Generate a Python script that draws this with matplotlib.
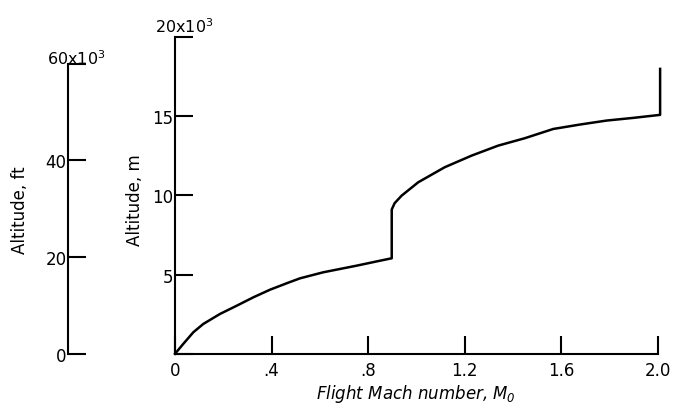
import matplotlib
matplotlib.use("Agg")
from matplotlib import pyplot as plt

# flight path: Mach number vs altitude (m)
mach = [0.0, 0.034, 0.076, 0.117, 0.186, 0.256, 0.325, 0.394, 0.463, 0.518,
        0.614, 0.753, 0.849, 0.898, 0.898, 0.91, 0.939, 1.008, 1.118, 1.229,
        1.339, 1.45, 1.567, 1.678, 1.788, 1.899, 2.01, 2.01]
alt_m = [0, 620, 1360, 1880, 2510, 3035, 3565, 4045, 4450, 4760,
         5140, 5560, 5870, 6025, 9100, 9500, 9975, 10820, 11770, 12500,
         13130, 13600, 14180, 14460, 14710, 14880, 15070, 17970]

x_ticks = [0, 0.4, 0.8, 1.2, 1.6, 2.0]
x_ticklabels = ["0", ".4", ".8", "1.2", "1.6", "2.0"]
m_ticks = [0, 5000, 10000, 15000, 20000]
m_ticklabels = ["", "5", "10", "15", ""]
ft_ticks = [0, 20000, 40000, 60000]
ft_ticklabels = ["0", "20", "40", ""]

plt.rcParams['font.family'] = ['DejaVu Sans']
plt.rcParams['mathtext.default'] = 'regular'
plt.rcParams['font.size'] = 12

fig = plt.figure(figsize=(6.73, 4.14), dpi=100)

bottom = (414 - 354.8) / 414
height = 317.1 / 414

# main axes (metres)
ax = fig.add_axes([175 / 673, bottom, (657.7 - 175) / 673, height])
ax.plot(mach, alt_m, color='black', lw=1.8, clip_on=False)
ax.set_xlim(0, 2.0)
ax.set_ylim(0, 20000)
for s in ['top', 'right']:
    ax.spines[s].set_visible(False)
for s in ['left', 'bottom']:
    ax.spines[s].set_linewidth(1.5)
ax.set_xticks(x_ticks)
ax.set_xticklabels(x_ticklabels)
ax.set_yticks(m_ticks)
ax.set_yticklabels(m_ticklabels)
ax.tick_params(axis='both', direction='in', length=13, width=1.5, labelsize=12)
ax.tick_params(axis='y', pad=1)
ax.tick_params(axis='x', pad=5)
ax.set_xlabel(r'Flight Mach number, $\mathit{M}_0$', fontsize=12, style='italic', labelpad=2)
fig.text(155 / 673, 1 - 33 / 414, r'20x10$^3$', fontsize=11.5, ha='left', va='baseline')
fig.text(135 / 673, 1 - 200 / 414, 'Altitude, m', rotation=90, ha='center', va='center', fontsize=12)

# left scale (feet)
ax2 = fig.add_axes([68 / 673, bottom, 0.001, height])
ax2.set_ylim(0, 20000 / 0.3048)
ax2.set_xlim(0, 1)
for s in ['top', 'right', 'bottom']:
    ax2.spines[s].set_visible(False)
ax2.spines['left'].set_linewidth(1.5)
ax2.spines['left'].set_bounds(0, 60000)
ax2.set_xticks([])
ax2.set_yticks(ft_ticks)
ax2.set_yticklabels(ft_ticklabels)
ax2.tick_params(axis='y', direction='in', length=13, width=1.5, labelsize=12, pad=1)
fig.text(47 / 673, 1 - 65 / 414, r'60x10$^3$', fontsize=11.5, ha='left', va='baseline')
fig.text(20 / 673, 1 - 210 / 414, 'Altitude, ft', rotation=90, ha='center', va='center', fontsize=12)

plt.savefig("out.png", dpi=100)
